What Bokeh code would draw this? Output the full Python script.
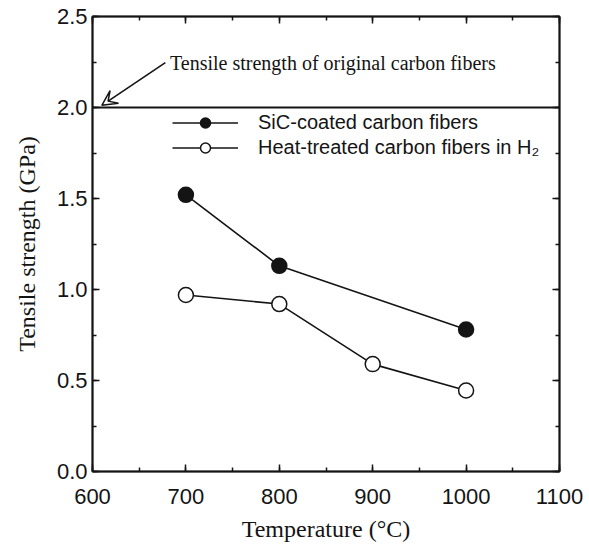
from bokeh.plotting import figure
from bokeh.models import (LinearAxis, SingleIntervalTicker, Span, Arrow, VeeHead,
                          Label, Legend, LegendItem, CustomJSTickFormatter, Range1d)
from bokeh.embed import file_html
from bokeh.resources import INLINE

# ---- data ----
temp_sic = [700, 800, 1000]
strength_sic = [1.52, 1.13, 0.78]
temp_h2 = [700, 800, 900, 1000]
strength_h2 = [0.97, 0.92, 0.59, 0.445]
original_strength = 2.0
label_sic = "SiC-coated carbon fibers"
label_h2 = "Heat-treated carbon fibers in H₂"
note_text = "Tensile strength of original carbon fibers"
x_ticks = [600, 700, 800, 900, 1000, 1100]
y_ticks = [0.0, 0.5, 1.0, 1.5, 2.0, 2.5]

INK = "#141414"
SANS = "Liberation Sans"
SERIF = "Liberation Serif"

p = figure(frame_width=467, frame_height=455,
           x_range=Range1d(600, 1100), y_range=Range1d(0, 2.5),
           output_backend="svg", toolbar_location=None,
           min_border_left=92, min_border_right=28, min_border_top=16, min_border_bottom=72,
           x_axis_label="Temperature (°C)", y_axis_label="Tensile strength (GPa)")
p.grid.visible = False
p.outline_line_color = INK
p.outline_line_width = 1.5
p.background_fill_color = "white"
p.border_fill_color = "white"

def style_axis(ax, show_labels=True):
    ax.axis_line_color = INK
    ax.axis_line_width = 2
    ax.major_tick_in = 7
    ax.major_tick_out = 0
    ax.minor_tick_in = 4
    ax.minor_tick_out = 0
    ax.major_tick_line_color = INK
    ax.minor_tick_line_color = INK
    ax.major_tick_line_width = 1.5
    ax.minor_tick_line_width = 1.5
    ax.major_label_text_font = SANS
    ax.major_label_text_font_size = "22px"
    ax.major_label_text_color = INK
    ax.axis_label_text_font = SERIF
    ax.axis_label_text_font_size = "24px"
    ax.axis_label_text_font_style = "normal"
    ax.axis_label_text_color = INK
    if not show_labels:
        ax.formatter = CustomJSTickFormatter(code="return ''")
        ax.major_label_standoff = 0

p.xaxis.ticker = SingleIntervalTicker(interval=100, num_minor_ticks=2)
p.yaxis.ticker = SingleIntervalTicker(interval=0.5, num_minor_ticks=2)
style_axis(p.xaxis[0])
style_axis(p.yaxis[0])
p.xaxis.major_label_standoff = 17
p.yaxis.major_label_standoff = 5
p.xaxis.axis_label_standoff = 9
p.yaxis.axis_label_standoff = 14
p.yaxis.formatter = CustomJSTickFormatter(code="return tick.toFixed(1)")

top = LinearAxis(ticker=SingleIntervalTicker(interval=100, num_minor_ticks=2))
right = LinearAxis(ticker=SingleIntervalTicker(interval=0.5, num_minor_ticks=2))
style_axis(top, False)
style_axis(right, False)
p.add_layout(top, "above")
p.add_layout(right, "right")

# reference line
p.add_layout(Span(location=original_strength, dimension="width",
                  line_color=INK, line_width=1.8))

# annotation arrow and text
p.add_layout(Arrow(end=VeeHead(size=15, fill_color="white", line_color=INK, line_width=1.5),
                   x_start=678, y_start=2.247, x_end=610, y_end=2.012,
                   line_color=INK, line_width=1.6))
p.add_layout(Label(x=683, y=2.247, text=note_text, text_font=SERIF,
                   text_font_size="20px", text_color=INK, text_baseline="middle"))

# series
l1 = p.line(temp_sic, strength_sic, line_color=INK, line_width=1.6)
s1 = p.scatter(temp_sic, strength_sic, size=15, fill_color=INK, line_color=INK, line_width=1.5)
l2 = p.line(temp_h2, strength_h2, line_color=INK, line_width=1.6)
s2 = p.scatter(temp_h2, strength_h2, size=15, fill_color="white", line_color=INK, line_width=1.5)

legend = Legend(items=[LegendItem(label=label_sic, renderers=[l1, s1]),
                       LegendItem(label=label_h2, renderers=[l2, s2])],
                location=(80, 311))
legend.glyph_width = 66
legend.glyph_height = 25
legend.label_height = 25
legend.label_standoff = 20
legend.spacing = 0
legend.padding = 0
legend.margin = 0
legend.border_line_color = None
legend.background_fill_alpha = 0
legend.label_text_font = SANS
legend.label_text_font_size = "20px"
legend.label_text_color = INK
p.add_layout(legend, "center")

open("out.html", "w").write(file_html(p, INLINE))
